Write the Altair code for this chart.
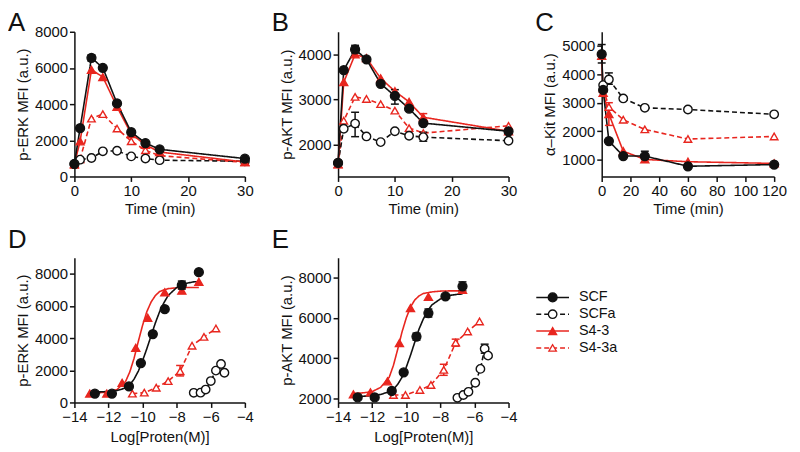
import altair as alt
import pandas as pd

FONT = "Liberation Sans"
BLACK = "#111111"
RED = "#e8261f"
NAMES = ["SCF", "SCFa", "S4-3", "S4-3a"]
DRAW_ORDER = ["S4-3a", "SCFa", "S4-3", "SCF"]

# ---------------- Panel A: p-ERK time course ----------------
A_t = [0, 1, 3, 5, 7.5, 10, 12.5, 15, 30]
A_SCF = [700, 2670, 6560, 6010, 4040, 2450, 1850, 1500, 990]
A_SCFa = [680, 930, 1020, 1390, 1420, 1110, 990, 900, 840]
A_S43 = [680, 1940, 5900, 5500, 3850, 2350, 1750, 1350, 800]
A_S43a = [650, 950, 3200, 3450, 2650, 1950, 1450, 1150, 780]
A_err = [("SCF", 3, 6380, 6720)]

# ---------------- Panel B: p-AKT time course ----------------
B_t = [0, 1, 3, 5, 7.5, 10, 12.5, 15, 30]
B_SCF = [1600, 3650, 4110, 3890, 3350, 3080, 2800, 2480, 2300]
B_SCFa = [1600, 2355, 2470, 2185, 2060, 2300, 2200, 2170, 2090]
B_S43 = [1570, 3385, 4000, 3920, 3470, 3185, 2950, 2610, 2300]
B_S43a = [1570, 2533, 3060, 3015, 2900, 2756, 2370, 2260, 2420]
B_err = [("SCF", 3, 4030, 4200), ("SCF", 10, 2900, 3220), ("SCFa", 3, 2180, 2720),
         ("SCFa", 15, 2080, 2280), ("S4-3", 15, 2530, 2690)]

# ---------------- Panel C: alpha-Kit time course ----------------
C_t_full = [0, 1, 5, 15, 30, 60, 120]
C_t_part = [1, 5, 15, 30, 60, 120]
C_SCF = [4710, 3450, 1650, 1120, 1120, 760, 820]
C_S43 = [4650, 3350, 2600, 1290, 1000, 920, 860]
C_SCFa = [3620, 3820, 3150, 2820, 2760, 2590]
C_S43a = [3500, 2850, 2400, 2060, 1720, 1810]
C_err = [("SCF", 0, 4400, 5050), ("SCF", 30, 1000, 1290), ("S4-3", 5, 2200, 3000),
         ("SCFa", 5, 3650, 4050)]

# ---------------- Panel D: p-ERK dose response ----------------
D_SCF_x = [-12.8, -11.8, -10.8, -10.1, -9.4, -8.7, -7.7, -6.7]
D_SCF_y = [550, 550, 1000, 2450, 4250, 5800, 7300, 8100]
D_S43_x = [-13.1, -12.1, -11.2, -10.4, -9.7, -8.7, -7.7, -6.7]
D_S43_y = [550, 550, 1220, 3400, 5270, 6850, 6950, 7500]
D_S43a_x = [-10.6, -9.9, -9.2, -8.5, -7.8, -7.1, -6.4, -5.7]
D_S43a_y = [550, 610, 920, 1330, 1940, 3530, 4080, 4600]
D_SCFa_x = [-7.0, -6.6, -6.3, -6.0, -5.7, -5.4, -5.2]
D_SCFa_y = [600, 610, 800, 1330, 1980, 2390, 1850]
D_fit_SCF_x = [-12.9, -12.5, -12, -11.5, -11, -10.75, -10.5, -10.25, -10, -9.75, -9.5,
               -9.25, -9, -8.75, -8.5, -8, -7.5, -7, -6.7]
D_fit_SCF_y = [650, 660, 680, 740, 900, 1100, 1450, 1950, 2600, 3350, 4150,
               4950, 5650, 6200, 6650, 7150, 7400, 7500, 7520]
D_fit_S43_x = [-13.1, -12.5, -12, -11.5, -11, -10.75, -10.5, -10.25, -10, -9.75, -9.5,
               -9.25, -9, -8.75, -8.5, -8, -7.5, -7, -6.7]
D_fit_S43_y = [600, 610, 650, 800, 1300, 1900, 2750, 3800, 4800, 5650, 6250,
               6650, 6900, 7000, 7080, 7130, 7150, 7150, 7150]
D_err = [("SCF", -7.7, 7050, 7550), ("S4-3a", -7.8, 1650, 2300)]

# ---------------- Panel E: p-AKT dose response ----------------
E_SCF_x = [-12.85, -11.85, -10.85, -10.15, -9.4, -8.7, -7.7, -6.7]
E_SCF_y = [2050, 2050, 2370, 3300, 5080, 6250, 7080, 7580]
E_S43_x = [-13.1, -12.1, -11.1, -10.4, -9.75, -8.7, -7.7, -6.7]
E_S43_y = [2200, 2300, 2850, 4750, 6500, 7050, 7150, 7400]
E_S43a_x = [-10.75, -10.05, -9.2, -8.55, -7.8, -7.1, -6.4, -5.7]
E_S43a_y = [2170, 2170, 2420, 2670, 3420, 4780, 5330, 5830]
E_SCFa_x = [-7.0, -6.65, -6.35, -5.95, -5.65, -5.4, -5.2]
E_SCFa_y = [2030, 2170, 2330, 2780, 3470, 4470, 4130]
E_fit_SCF_x = [-12.85, -12.5, -12, -11.5, -11, -10.75, -10.5, -10.25, -10, -9.75, -9.5,
               -9.25, -9, -8.75, -8.5, -8, -7.5, -7, -6.7]
E_fit_SCF_y = [2100, 2110, 2140, 2200, 2330, 2450, 2700, 3050, 3550, 4150, 4800,
               5450, 5950, 6350, 6650, 6950, 7120, 7180, 7200]
E_fit_S43_x = [-13.1, -12.5, -12, -11.5, -11, -10.75, -10.5, -10.25, -10, -9.75, -9.5,
               -9.25, -9, -8.5, -8, -7.5, -7, -6.7]
E_fit_S43_y = [2250, 2280, 2340, 2550, 3050, 3650, 4450, 5300, 6000, 6550, 6900,
               7100, 7220, 7300, 7340, 7350, 7350, 7350]
E_err = [("SCF", -6.7, 7350, 7800), ("SCF", -8.7, 6050, 6450), ("SCF", -9.4, 4900, 5250),
         ("S4-3a", -7.8, 3150, 3700), ("S4-3a", -7.1, 4600, 4950), ("SCFa", -5.4, 4250, 4700)]


def long_df(series_dict):
    rows = []
    for name in DRAW_ORDER:
        if name in series_dict:
            xs, ys = series_dict[name]
            for x, y in zip(xs, ys):
                rows.append({"x": x, "y": y, "series": name})
    return pd.DataFrame(rows)


def err_df(errs):
    return pd.DataFrame([{"series": s, "x": x, "lo": lo, "hi": hi} for s, x, lo, hi in errs])


stroke_scale = alt.Scale(domain=NAMES, range=[BLACK, BLACK, RED, RED])
fill_scale = alt.Scale(domain=NAMES, range=[BLACK, "white", RED, "white"])
shape_scale = alt.Scale(domain=NAMES, range=["circle", "circle", "triangle-up", "triangle-up"])
size_scale = alt.Scale(domain=NAMES, range=[80, 58, 90, 72])
dash_scale = alt.Scale(domain=NAMES, range=[[1, 0], [5, 3], [1, 0], [5, 3]])


def panel(points, lines, errs, xdom, ydom, xvals, yvals, xtitle, ytitle, letter,
          letter_y, width, height, xtitle_pad=3):
    def X(field="x"):
        return alt.X(f"{field}:Q", scale=alt.Scale(domain=xdom, nice=False, zero=False),
                     axis=alt.Axis(values=xvals, title=xtitle, titlePadding=xtitle_pad, format="d"))

    def Y(field="y"):
        return alt.Y(f"{field}:Q", scale=alt.Scale(domain=ydom, nice=False, zero=False),
                     axis=alt.Axis(values=yvals, title=ytitle, format="d"))

    st = alt.Stroke("series:N", scale=stroke_scale, legend=None)
    layers = []
    layers.append(
        alt.Chart(lines).mark_line(strokeWidth=1.6, clip=False).encode(
            x=X(), y=Y(), stroke=st,
            strokeDash=alt.StrokeDash("series:N", scale=dash_scale, legend=None),
            detail="series:N",
        )
    )
    layers.append(
        alt.Chart(errs).mark_rule(strokeWidth=1.5).encode(x=X(), y=Y("lo"), y2="hi", stroke=st)
    )
    for cap in ["lo", "hi"]:
        layers.append(
            alt.Chart(errs).mark_rule(strokeWidth=1.5, xOffset=-4, x2Offset=4).encode(
                x=X(), x2="x", y=Y(cap), stroke=st)
        )
    layers.append(
        alt.Chart(points).mark_point(filled=True, strokeWidth=1.4, opacity=1, clip=False).encode(
            x=X(), y=Y(),
            stroke=st,
            fill=alt.Fill("series:N", scale=fill_scale, legend=None),
            shape=alt.Shape("series:N", scale=shape_scale, legend=None),
            size=alt.Size("series:N", scale=size_scale, legend=None),
        )
    )
    layers.append(
        alt.Chart(pd.DataFrame({"t": [letter]})).mark_text(
            fontSize=26, font=FONT, align="left", baseline="alphabetic", color=BLACK
        ).encode(text="t:N", x=alt.value(-67), y=alt.value(letter_y))
    )
    return alt.layer(*layers).properties(width=width, height=height)


# Panel data frames
A_pts = long_df({"SCF": (A_t, A_SCF), "SCFa": (A_t, A_SCFa), "S4-3": (A_t, A_S43), "S4-3a": (A_t, A_S43a)})
B_pts = long_df({"SCF": (B_t, B_SCF), "SCFa": (B_t, B_SCFa), "S4-3": (B_t, B_S43), "S4-3a": (B_t, B_S43a)})
C_pts = long_df({"SCF": (C_t_full, C_SCF), "SCFa": (C_t_part, C_SCFa),
                 "S4-3": (C_t_full, C_S43), "S4-3a": (C_t_part, C_S43a)})
D_pts = long_df({"SCF": (D_SCF_x, D_SCF_y), "SCFa": (D_SCFa_x, D_SCFa_y),
                 "S4-3": (D_S43_x, D_S43_y), "S4-3a": (D_S43a_x, D_S43a_y)})
D_lines = long_df({"SCF": (D_fit_SCF_x, D_fit_SCF_y), "SCFa": (D_SCFa_x, D_SCFa_y),
                   "S4-3": (D_fit_S43_x, D_fit_S43_y), "S4-3a": (D_S43a_x, D_S43a_y)})
E_pts = long_df({"SCF": (E_SCF_x, E_SCF_y), "SCFa": (E_SCFa_x, E_SCFa_y),
                 "S4-3": (E_S43_x, E_S43_y), "S4-3a": (E_S43a_x, E_S43a_y)})
E_lines = long_df({"SCF": (E_fit_SCF_x, E_fit_SCF_y), "SCFa": (E_SCFa_x, E_SCFa_y),
                   "S4-3": (E_fit_S43_x, E_fit_S43_y), "S4-3a": (E_S43a_x, E_S43a_y)})

pA = panel(A_pts, A_pts, err_df(A_err), [0, 30], [0, 8000], [0, 10, 20, 30],
           [0, 2000, 4000, 6000, 8000], "Time (min)", "p-ERK MFI (a.u.)", "A", -1, 172, 146)
pB = panel(B_pts, B_pts, err_df(B_err), [0, 30], [1300, 4500], [0, 10, 20, 30],
           [2000, 3000, 4000], "Time (min)", "p-AKT MFI (a.u.)", "B", -1, 172, 146)
pC = panel(C_pts, C_pts, err_df(C_err), [0, 120], [400, 5500], [0, 20, 40, 60, 80, 100, 120],
           [1000, 2000, 3000, 4000, 5000], "Time (min)", "α–Kit MFI (a.u.)", "C", -1, 174, 146)
pD = panel(D_pts, D_lines, err_df(D_err), [-14, -4], [0, 9000], [-14, -12, -10, -8, -6, -4],
           [0, 2000, 4000, 6000, 8000], "Log[Proten(M)]", "p-ERK MFI (a.u.)", "D", -10, 172, 146,
           xtitle_pad=5)
pE = panel(E_pts, E_lines, err_df(E_err), [-14, -4], [1800, 9000], [-14, -12, -10, -8, -6, -4],
           [2000, 4000, 6000, 8000], "Log[Proten(M)]", "p-AKT MFI (a.u.)", "E", -10, 172, 146,
           xtitle_pad=5)

# Legend panel
leg = pd.DataFrame({"series": NAMES, "idx": list(range(len(NAMES)))})
legY = alt.Y("idx:Q", scale=alt.Scale(domain=[0, 3], range=[40, 91]), axis=None)
leg_st = alt.Stroke("series:N", scale=stroke_scale, legend=None)
legend = alt.layer(
    alt.Chart(leg).mark_rule(strokeWidth=1.5).encode(
        x=alt.value(-66), x2=alt.value(-33), y=legY, stroke=leg_st,
        strokeDash=alt.StrokeDash("series:N", scale=dash_scale, legend=None)),
    alt.Chart(leg).mark_point(filled=True, strokeWidth=1.3, opacity=1).encode(
        x=alt.value(-49.5), y=legY, stroke=leg_st,
        fill=alt.Fill("series:N", scale=fill_scale, legend=None),
        shape=alt.Shape("series:N", scale=shape_scale, legend=None),
        size=alt.Size("series:N", scale=alt.Scale(domain=NAMES, range=[60, 30, 70, 55]), legend=None)),
    alt.Chart(leg).mark_text(align="left", baseline="middle", fontSize=14.5, font=FONT, color=BLACK).encode(
        x=alt.value(-23), y=legY, text="series:N"),
).properties(width=60, height=146)

chart = alt.concat(pA, pB, pC, pD, pE, legend, columns=3, bounds="flush",
                   spacing={"row": 82, "column": 94}).properties(
    padding={"left": 0, "top": 0, "right": 5, "bottom": 5}
).configure_view(stroke=None).configure_axis(
    grid=False, domainColor=BLACK, tickColor=BLACK, labelColor=BLACK, titleColor=BLACK,
    domainWidth=1.5, tickWidth=1.5, tickSize=5, labelFont=FONT, titleFont=FONT,
    labelFontSize=15, titleFontSize=15, titleFontWeight="normal", labelPadding=2,
    titlePadding=4, labelFlush=False, labelOverlap=False,
)

chart.save("out.html", embed_options={"renderer": "svg", "actions": False})
